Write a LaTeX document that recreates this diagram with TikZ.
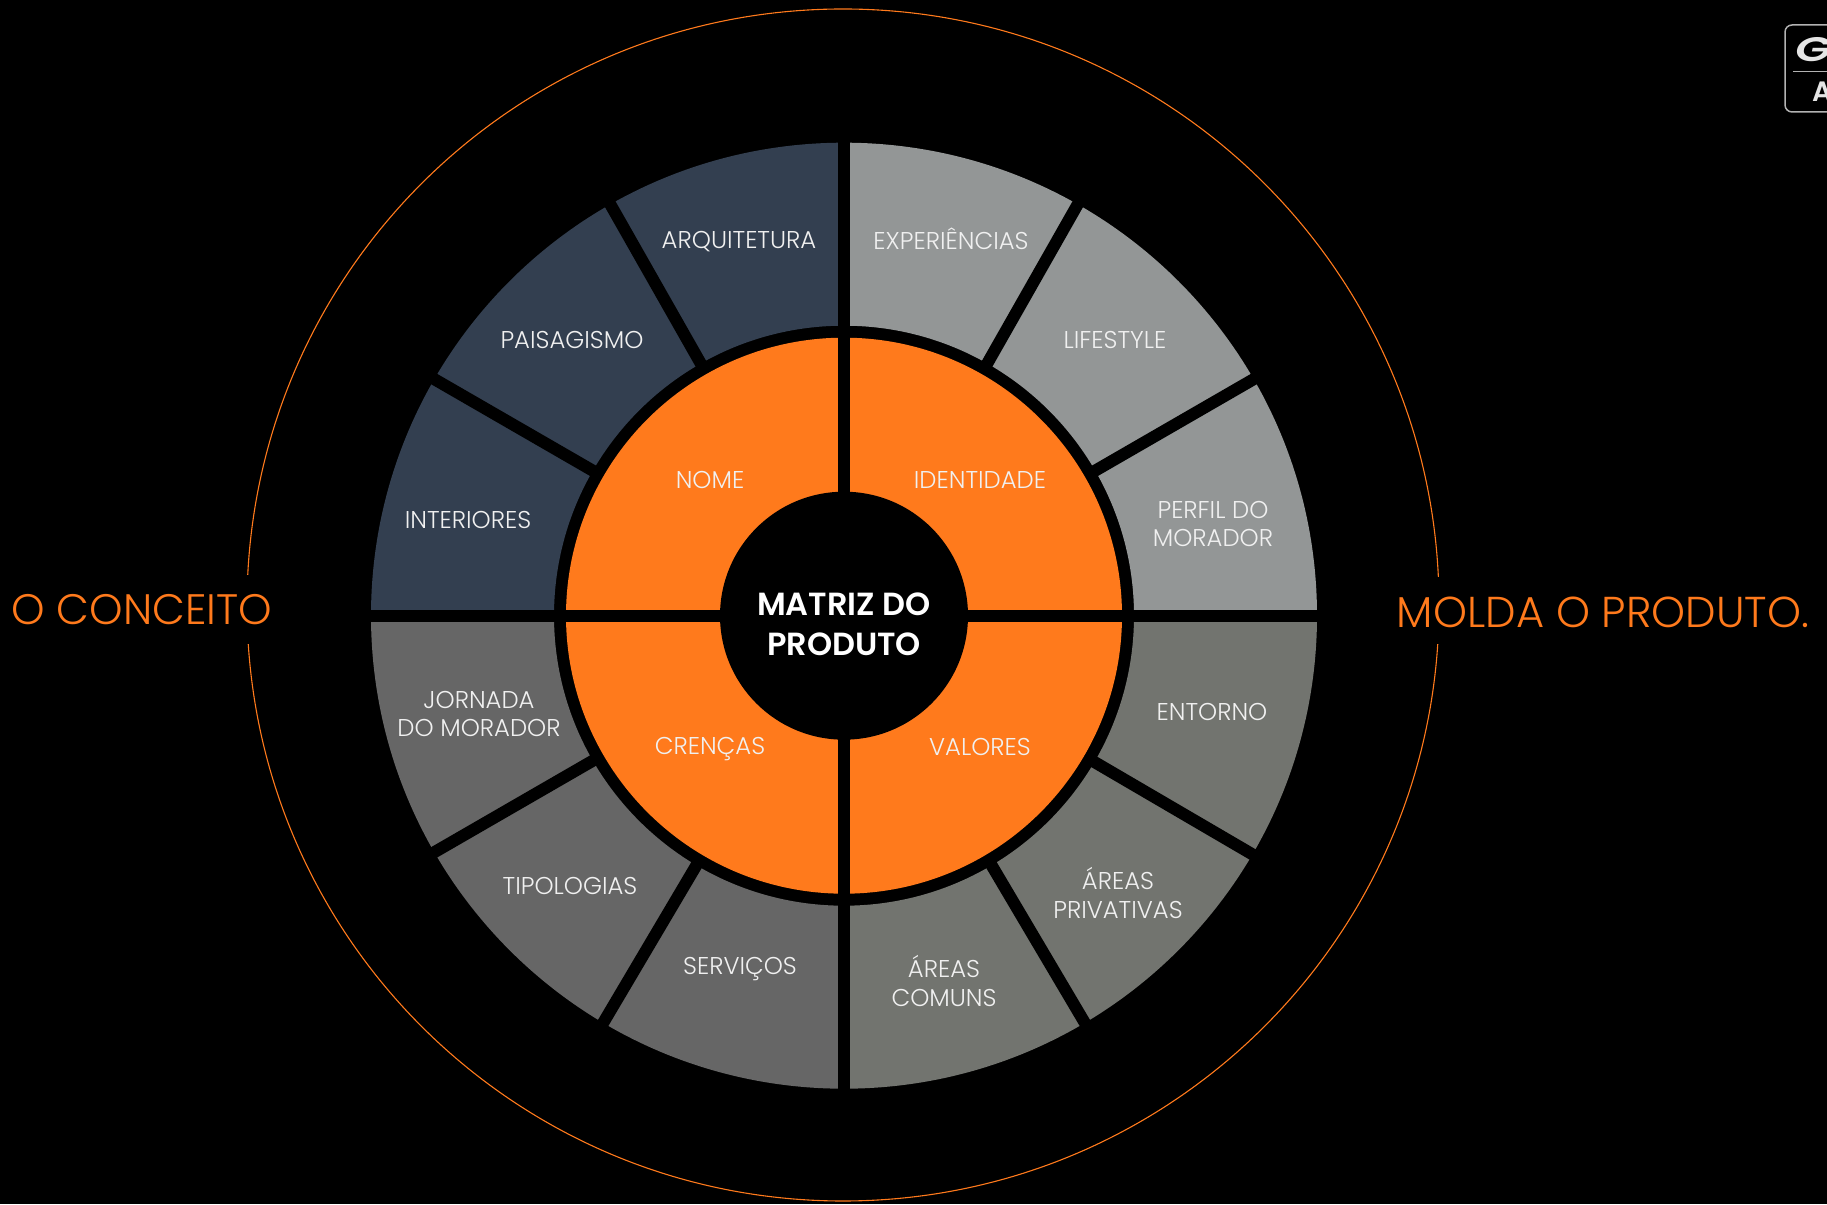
\documentclass[tikz,border=0pt]{standalone}
\usepackage{fontspec}
\setmainfont{Poppins}[UprightFont=* Light,BoldFont=* SemiBold]
\definecolor{ringorange}{HTML}{FF7A1C}
\definecolor{navy}{HTML}{333F50}
\definecolor{lgray}{HTML}{939696}
\definecolor{mgray}{HTML}{72746F}
\definecolor{dgray}{HTML}{666666}
\tikzset{x=1pt,y=1pt,
 lbl/.style={text=white!94!black,font=\fontsize{24.3}{28.5}\selectfont,align=center,inner sep=0pt},
 side/.style={text=ringorange,inner sep=0pt},
 spoke/.style={draw=black,line width=12pt},
 logoline/.style={draw=gray!60,line width=1.5pt},
}
\newcommand{\wsector}[5]{\fill[#5] (#1:#3) arc (#1:#2:#3) -- (#2:#4) arc (#2:#1:#4) -- cycle;}
\begin{document}
\begin{tikzpicture}
\fill[black] (0,0) rectangle (1827,1204);
\useasboundingbox (0,0) rectangle (1827,1204);
\coordinate (bigc) at (843,599);
\draw[ringorange,line width=1.1pt] (bigc) circle (596);
\fill[black] (238,560) rectangle (258,629);
\fill[black] (1428,560) rectangle (1448,627);
\begin{scope}[shift={(844,588.3)}]
\coordinate (wc) at (0,0);
\wsector{0}{90}{473}{290}{lgray}
\wsector{90}{180}{473}{290}{navy}
\wsector{180}{270}{473}{290}{dgray}
\wsector{270}{360}{473}{290}{mgray}
\fill[ringorange] (0,0) circle (278);
\foreach \a in {30,60.4,119.6,150,210,239.4,300.6,329.7}{
 \coordinate (sa) at (\a:280);
 \coordinate (sb) at (\a:480);
 \draw[spoke] (sa) -- (sb);
}
\foreach \a in {0,90,180,270}{
 \coordinate (sa) at (\a:100);
 \coordinate (sb) at (\a:480);
 \draw[spoke] (sa) -- (sb);
}
\fill[black] (0,0) circle (124);
\end{scope}
\node[lbl] (arq) at (739,962.7) {ARQUITETURA};
\node[lbl] (exp) at (951,965) {EXPERIÊNCIAS};
\node[lbl] (pai) at (572,864) {PAISAGISMO};
\node[lbl] (lif) at (1115,864) {LIFESTYLE};
\node[lbl] (int) at (468,683.5) {INTERIORES};
\node[lbl] (per) at (1213,680) {PERFIL DO\\MORADOR};
\node[lbl] (nom) at (710,724) {NOME};
\node[lbl] (ide) at (980,724) {IDENTIDADE};
\node[lbl] (cre) at (710,454.5) {CRENÇAS};
\node[lbl] (val) at (980,457) {VALORES};
\node[lbl] (jor) at (479,490) {JORNADA\\DO MORADOR};
\node[lbl] (ent) at (1212,492) {ENTORNO};
\node[lbl] (tip) at (570,318) {TIPOLOGIAS};
\node[lbl] (pri) at (1118,311) {ÁREAS\\PRIVATIVAS};
\node[lbl] (ser) at (740,234.5) {SERVIÇOS};
\node[lbl] (com) at (944,223) {ÁREAS\\COMUNS};
\node[lbl,text=white,font=\fontsize{32}{40}\selectfont\bfseries] (mat) at (844,580) {MATRIZ DO\\PRODUTO};
\node[side,font=\fontsize{42.6}{50}\selectfont] (con) at (142,594.5) {O CONCEITO};
\node[side,font=\fontsize{43.2}{50}\selectfont] (mol) at (1603,592) {MOLDA O PRODUTO.};
\begin{scope}
\clip (0,0) rectangle (1827,1204);
\draw[logoline,rounded corners=7pt] (1785,1092) rectangle (1860,1179);
\coordinate (lgl) at (1793,1132);
\coordinate (lgr) at (1860,1132);
\draw[logoline,line width=1pt] (lgl) -- (lgr);
\node[text=white!90!black,inner sep=0pt,xscale=1.4,font=\fontsize{34}{34}\selectfont\bfseries\itshape,anchor=west] (logog) at (1795,1154) {G};
\node[text=white!90!black,inner sep=0pt,font=\fontsize{28}{28}\selectfont\bfseries,anchor=west] (logoa) at (1812,1112) {A};
\end{scope}
\end{tikzpicture}
\end{document}
